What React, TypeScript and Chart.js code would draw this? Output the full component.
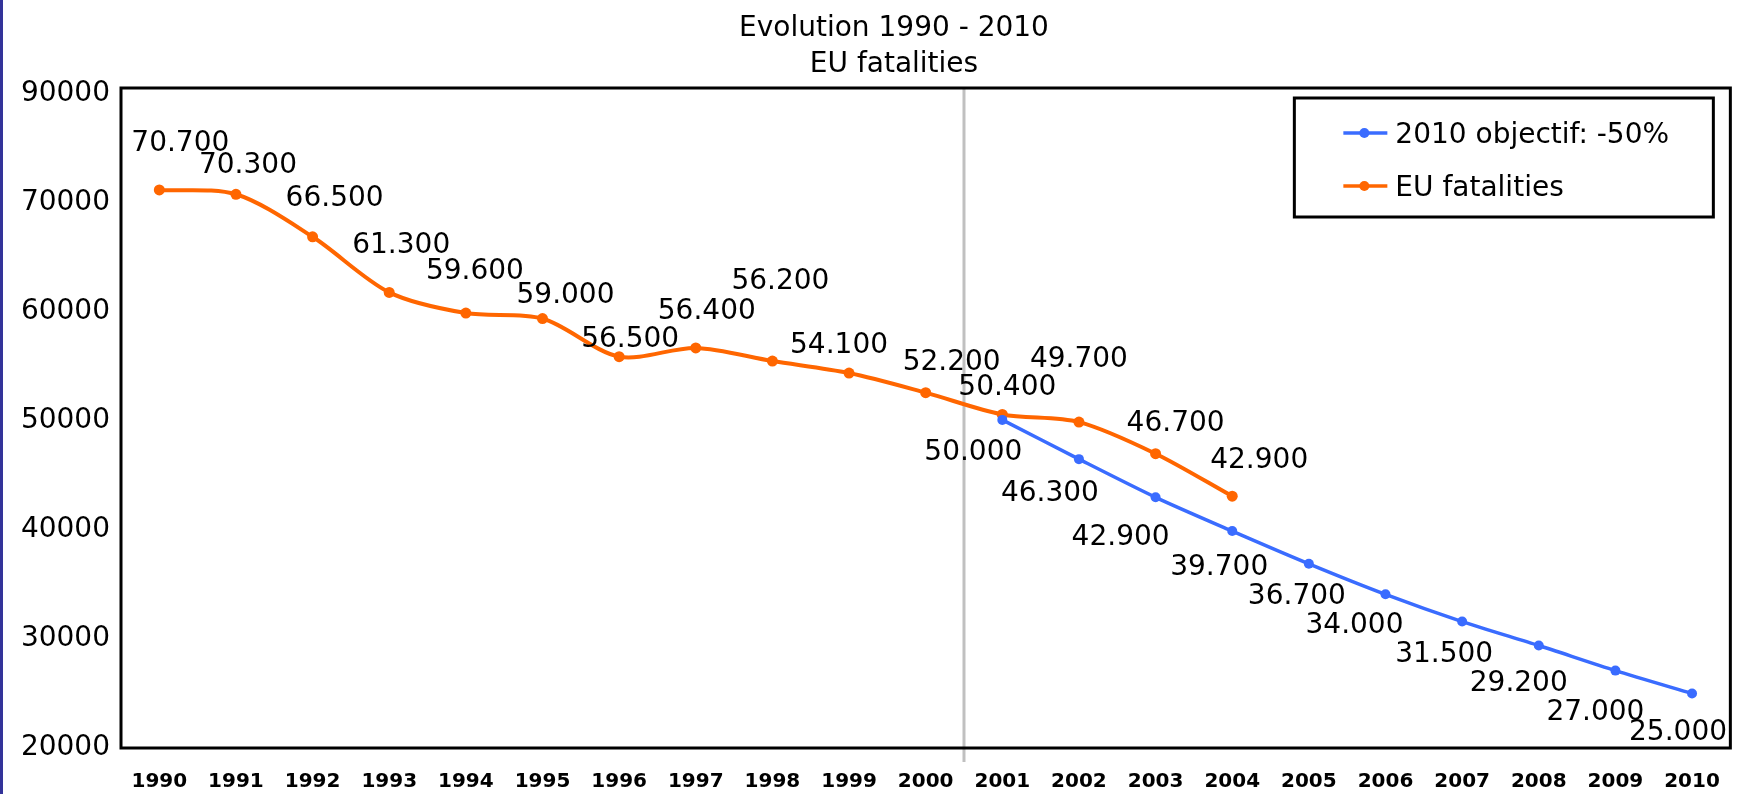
import { useEffect, useRef } from 'react';
import { Chart, registerables } from 'chart.js';

Chart.register(...registerables);

// ---------- data ----------
const years = ['1990', '1991', '1992', '1993', '1994', '1995', '1996', '1997', '1998', '1999', '2000',
  '2001', '2002', '2003', '2004', '2005', '2006', '2007', '2008', '2009', '2010'];

const euFatalities = [71200, 70800, 66900, 61800, 59900, 59400, 55900, 56700, 55500, 54400, 52600,
  50600, 49900, 47000, 43100, null, null, null, null, null, null];
const euFatalityLabels = ['70.700', '70.300', '66.500', '61.300', '59.600', '59.000', '56.500', '56.400',
  '56.200', '54.100', '52.200', '50.400', '49.700', '46.700', '42.900', '', '', '', '', '', ''];

const objective = [null, null, null, null, null, null, null, null, null, null, null,
  50100, 46500, 43000, 39900, 36900, 34100, 31600, 29400, 27100, 25000];
const objectiveLabels = ['', '', '', '', '', '', '', '', '', '', '',
  '50.000', '46.300', '42.900', '39.700', '36.700', '34.000', '31.500', '29.200', '27.000', '25.000'];

const yTickValues = [20000, 30000, 40000, 50000, 60000, 70000, 80000];
const yTickLabels = ['20000', '30000', '40000', '50000', '60000', '70000', '90000'];

const titleLines = ['Evolution 1990 - 2010', 'EU fatalities'];
const seriesNames = ['2010 objectif: -50%', 'EU fatalities'];

// ---------- style (label nudges relative to each point, px) ----------
const objectiveNudges: [number, number][] = [
  [0, 0], [0, 0], [0, 0], [0, 0], [0, 0], [0, 0], [0, 0], [0, 0], [0, 0], [0, 0], [0, 0],
  [-29, 30], [-29, 32], [-35, 38], [-13, 34], [-12, 30], [-31, 29], [-18, 30], [-20, 35], [-20, 39], [-14, 37],
];
const euNudges: [number, number][] = [
  [21, -49], [12, -31], [22, -41], [12, -49], [9, -44], [23, -26], [11, -20], [11, -39], [8, -82],
  [-10, -30], [26, -33], [5, -29], [0, -65], [20, -33], [27, -38],
  [0, 0], [0, 0], [0, 0], [0, 0], [0, 0], [0, 0],
];

const FONT = '"DejaVu Sans", sans-serif';
const BLUE = '#3a6cff';
const ORANGE = '#ff6600';

const decorPlugin = {
  id: 'decor',
  beforeDraw(chart: any) {
    const { ctx, width, height } = chart;
    ctx.save();
    ctx.fillStyle = '#ffffff';
    ctx.fillRect(0, 0, width, height);
    ctx.fillStyle = '#333399';
    ctx.fillRect(0, 0, 3, height);
    ctx.fillStyle = '#000';
    ctx.font = `28px ${FONT}`;
    ctx.textAlign = 'center';
    ctx.textBaseline = 'alphabetic';
    ctx.fillText(titleLines[0], 894, 36);
    ctx.fillText(titleLines[1], 894, 72);
    ctx.restore();
  },
  beforeDatasetsDraw(chart: any) {
    const { ctx, chartArea, scales } = chart;
    ctx.save();
    const xs = scales.x.getPixelForValue(10.5);
    ctx.strokeStyle = '#c0c0c0';
    ctx.lineWidth = 3;
    ctx.beginPath();
    ctx.moveTo(xs, chartArea.top);
    ctx.lineTo(xs, chartArea.bottom + 14);
    ctx.stroke();
    ctx.strokeStyle = '#000';
    ctx.lineWidth = 3;
    ctx.strokeRect(chartArea.left, chartArea.top, chartArea.right - chartArea.left, chartArea.bottom - chartArea.top);
    ctx.restore();
  },
  afterDatasetsDraw(chart: any) {
    const { ctx, chartArea } = chart;
    const texts = [objectiveLabels, euFatalityLabels];
    const nudges = [objectiveNudges, euNudges];
    ctx.save();
    ctx.fillStyle = '#000';
    ctx.font = `28px ${FONT}`;
    ctx.textAlign = 'center';
    ctx.textBaseline = 'alphabetic';
    chart.data.datasets.forEach((ds: any, di: number) => {
      const meta = chart.getDatasetMeta(di);
      meta.data.forEach((pt: any, i: number) => {
        if (ds.data[i] == null || !texts[di][i]) return;
        const [dx, dy] = nudges[di][i];
        ctx.fillText(texts[di][i], pt.x + dx, pt.y + dy + 10);
      });
    });

    // legend box
    const bx = chartArea.right - 17 - 419;
    const by = chartArea.top + 10;
    ctx.strokeStyle = '#000';
    ctx.lineWidth = 3;
    ctx.strokeRect(bx, by, 419, 119);
    chart.data.datasets.forEach((ds: any, di: number) => {
      const cy = by + 35 + di * 53;
      ctx.strokeStyle = ds.borderColor;
      ctx.lineWidth = 3.5;
      ctx.beginPath();
      ctx.moveTo(bx + 49, cy);
      ctx.lineTo(bx + 93, cy);
      ctx.stroke();
      ctx.fillStyle = ds.borderColor;
      ctx.beginPath();
      ctx.arc(bx + 70, cy, 5, 0, Math.PI * 2);
      ctx.fill();
      ctx.fillStyle = '#000';
      ctx.textAlign = 'left';
      ctx.fillText(ds.label, bx + 101, cy + 10);
    });
    ctx.restore();
  },
};

export default function App() {
  const ref = useRef<HTMLCanvasElement | null>(null);

  useEffect(() => {
    document.body.style.margin = '0';
    if (!ref.current) return;
    const chart = new Chart(ref.current, {
      type: 'line',
      data: {
        labels: years,
        datasets: [
          {
            label: seriesNames[0],
            data: objective,
            borderColor: BLUE,
            backgroundColor: BLUE,
            pointBackgroundColor: BLUE,
            borderWidth: 3.5,
            pointRadius: 5,
            pointBorderWidth: 0,
            tension: 0.25,
            spanGaps: false,
          },
          {
            label: seriesNames[1],
            data: euFatalities,
            borderColor: ORANGE,
            backgroundColor: ORANGE,
            pointBackgroundColor: ORANGE,
            borderWidth: 4,
            pointRadius: 5.5,
            pointBorderWidth: 0,
            tension: 0.3,
            spanGaps: false,
          },
        ],
      },
      options: {
        responsive: false,
        animation: false,
        devicePixelRatio: 1,
        layout: { padding: { top: 88, right: 5, left: 0, bottom: 0 } },
        plugins: {
          legend: { display: false },
          title: { display: false },
          tooltip: { enabled: false },
        },
        scales: {
          x: {
            type: 'category',
            offset: true,
            grid: { display: false, drawTicks: false },
            border: { display: false },
            ticks: {
              color: '#000',
              font: { family: FONT, size: 20, weight: 'bold' },
              padding: 22,
              maxRotation: 0,
              autoSkip: false,
            },
            afterFit: (s: any) => { s.height = 46; },
          },
          y: {
            min: 20000,
            max: 80550,
            grid: { display: false, drawTicks: false },
            border: { display: false },
            afterBuildTicks: (s: any) => { s.ticks = yTickValues.map((v) => ({ value: v })); },
            ticks: {
              color: '#000',
              font: { family: FONT, size: 28 },
              padding: 11,
              callback: (v: any) => {
                const i = yTickValues.indexOf(Number(v));
                return i >= 0 ? yTickLabels[i] : '';
              },
            },
            afterFit: (s: any) => { s.width = 121; },
          },
        },
      },
      plugins: [decorPlugin],
    } as any);
    return () => chart.destroy();
  }, []);

  return (
    <div style={{ width: 1742, height: 794 }}>
      <canvas ref={ref} width={1742} height={794} style={{ display: 'block' }} />
    </div>
  );
}
